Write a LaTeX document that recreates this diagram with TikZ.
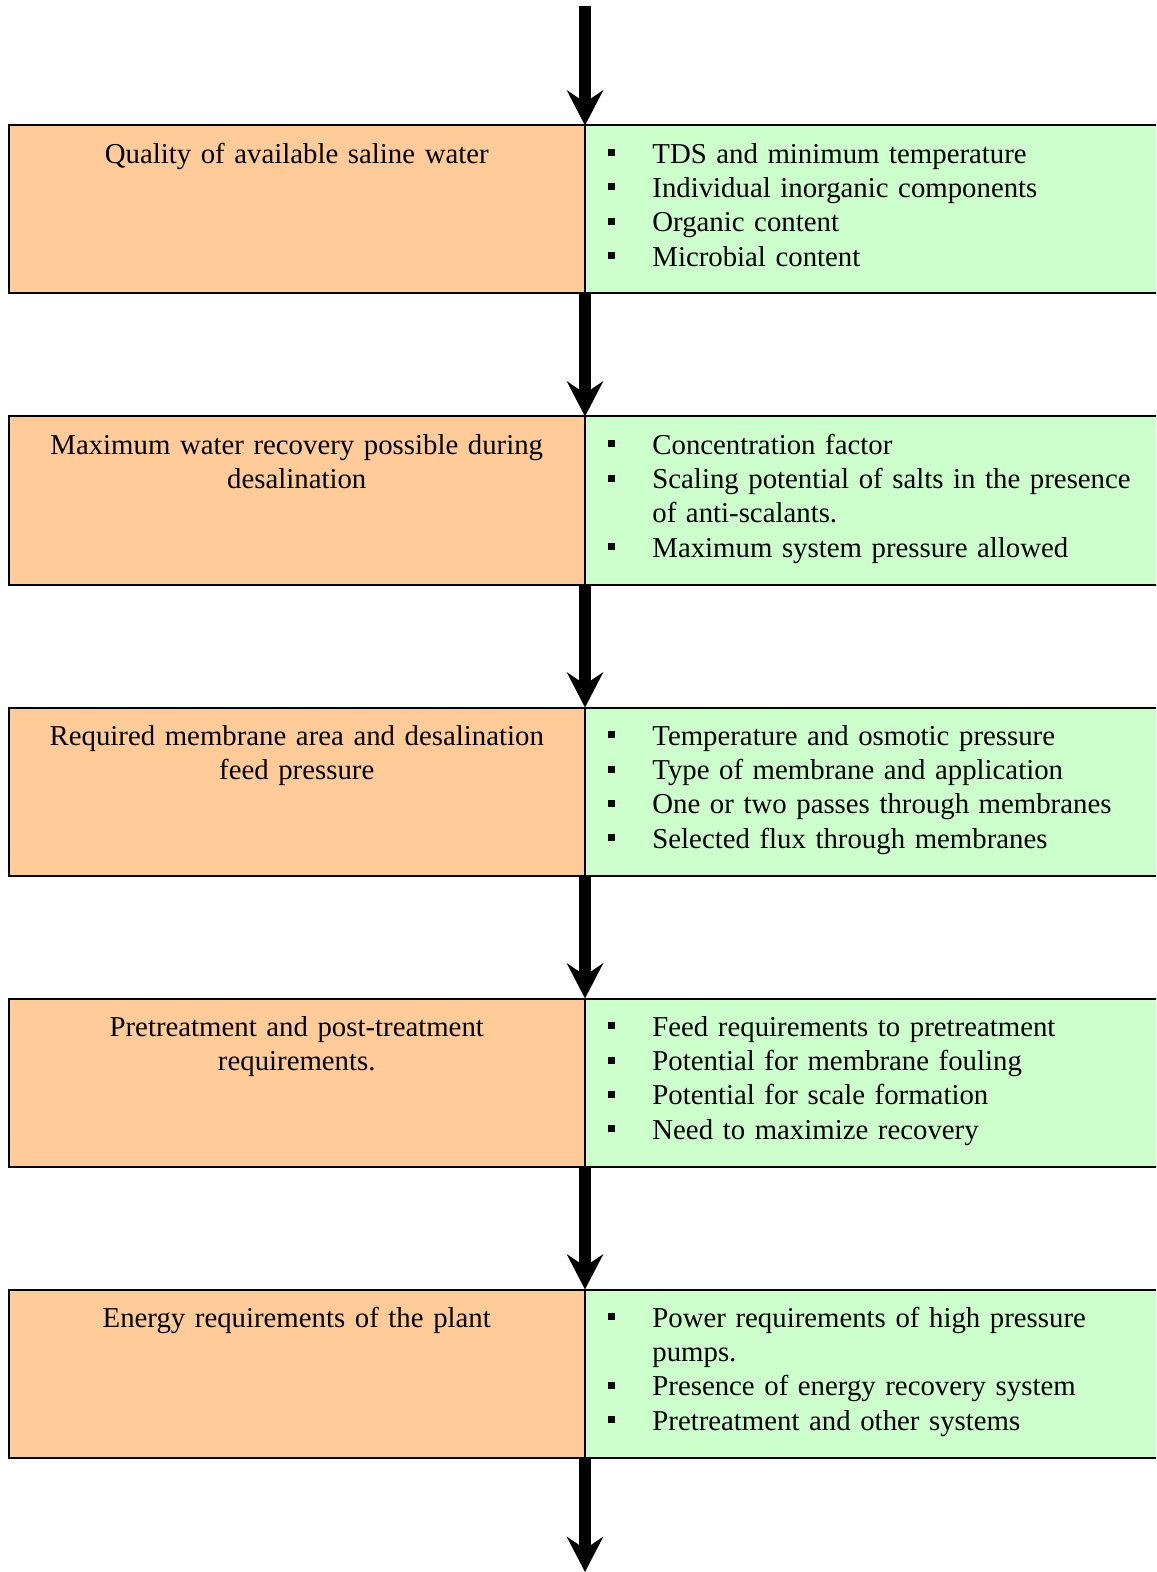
\documentclass[tikz,border=0pt]{standalone}
\usepackage{fontspec}
\setmainfont{Liberation Serif}
\usetikzlibrary{arrows.meta,calc}
\definecolor{factorfill}{HTML}{FFCC99}
\definecolor{detailfill}{HTML}{CCFFCC}
% bullet marker followed by its text; wrapped lines hang under the text
\newcommand\bulmark{\makebox[33.5pt][l]{\hspace{11.5pt}\raisebox{3.5pt}{\rule{3.5pt}{3.5pt}}}}
\newcommand\firstitem[1]{\noindent\hangindent=33.5pt\hangafter=1\bulmark#1}
\newcommand\bulitem[1]{\par\noindent\hangindent=33.5pt\hangafter=1\bulmark#1}
\begin{document}
\begin{tikzpicture}[x=0.5pt,y=-0.5pt,
  box/.style={draw=black,line width=1pt,inner sep=0pt,outer sep=0pt,
    minimum height=84pt,anchor=north west},
  factor/.style={box,fill=factorfill,minimum width=288.25pt},
  detail/.style={box,fill=detailfill,minimum width=292.5pt},
  factortext/.style={inner sep=0pt,anchor=base,text width=288pt,align=center,
    font=\fontsize{14.4}{17.2}\selectfont},
  detailtext/.style={inner sep=0pt,anchor=base west,text width=300pt,
    font=\fontsize{14.4}{17.2}\selectfont},
  flow/.style={line width=6pt,-{Stealth[length=17.5pt,width=18pt,inset=6pt]}}]
\useasboundingbox (0,0) rectangle (1156,1572);
\clip (0,0) rectangle (1156,1572);

% stage 1
\node[factor] (f1) at (8.5,125.5) {};
\node[detail] (d1) at (585,125.5) {};
\node[factortext] (f1t) at ($(f1.north)+(0,37.6)$) {Quality of available saline water};
\node[detailtext] (d1t) at ($(d1.north west)+(0,37.6)$) {%
  \firstitem{TDS and minimum temperature}%
  \bulitem{Individual inorganic components}%
  \bulitem{Organic content}%
  \bulitem{Microbial content}};

% stage 2
\node[factor] (f2) at (8.5,416.5) {};
\node[detail] (d2) at (585,416.5) {};
\node[factortext] (f2t) at ($(f2.north)+(0,37.6)$) {Maximum water recovery possible during\\desalination};
\node[detailtext] (d2t) at ($(d2.north west)+(0,37.6)$) {%
  \firstitem{Concentration factor}%
  \bulitem{Scaling potential of salts in the presence\newline of anti-scalants.}%
  \bulitem{Maximum system pressure allowed}};

% stage 3
\node[factor] (f3) at (8.5,707.5) {};
\node[detail] (d3) at (585,707.5) {};
\node[factortext] (f3t) at ($(f3.north)+(0,37.6)$) {Required membrane area and desalination\\feed pressure};
\node[detailtext] (d3t) at ($(d3.north west)+(0,37.6)$) {%
  \firstitem{Temperature and osmotic pressure}%
  \bulitem{Type of membrane and application}%
  \bulitem{One or two passes through membranes}%
  \bulitem{Selected flux through membranes}};

% stage 4
\node[factor] (f4) at (8.5,998.5) {};
\node[detail] (d4) at (585,998.5) {};
\node[factortext] (f4t) at ($(f4.north)+(0,37.6)$) {Pretreatment and post-treatment\\requirements.};
\node[detailtext] (d4t) at ($(d4.north west)+(0,37.6)$) {%
  \firstitem{Feed requirements to pretreatment}%
  \bulitem{Potential for membrane fouling}%
  \bulitem{Potential for scale formation}%
  \bulitem{Need to maximize recovery}};

% stage 5
\node[factor] (f5) at (8.5,1289.5) {};
\node[detail] (d5) at (585,1289.5) {};
\node[factortext] (f5t) at ($(f5.north)+(0,37.6)$) {Energy requirements of the plant};
\node[detailtext] (d5t) at ($(d5.north west)+(0,37.6)$) {%
  \firstitem{Power requirements of high pressure\newline pumps.}%
  \bulitem{Presence of energy recovery system}%
  \bulitem{Pretreatment and other systems}};

% flow arrows
\coordinate (in) at (585,6);
\coordinate (out) at (585,1572);
\draw[flow] (in) -- (f1.north east);
\draw[flow] (f1.south east) -- (f2.north east);
\draw[flow] (f2.south east) -- (f3.north east);
\draw[flow] (f3.south east) -- (f4.north east);
\draw[flow] (f4.south east) -- (f5.north east);
\draw[flow] (f5.south east) -- (out);
\end{tikzpicture}
\end{document}
